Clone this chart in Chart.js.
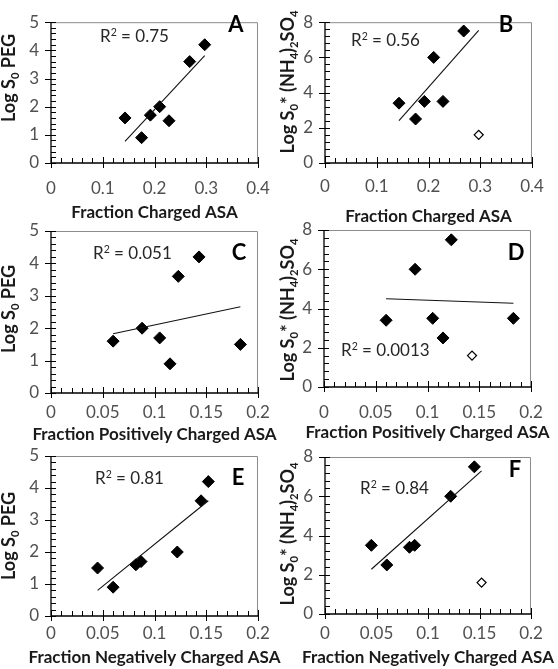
<!DOCTYPE html>
<html>
<head>
<meta charset="utf-8">
<script src="https://cdn.jsdelivr.net/npm/chart.js@4.4.1/dist/chart.umd.min.js"></script>
<style>
  html, body { margin: 0; padding: 0; background: #fff; }
  #wrap { position: relative; width: 558px; height: 669px; overflow: hidden; }
  #wrap canvas { position: absolute; left: 0; top: 0; }
</style>
</head>
<body>
<div id="wrap"></div>
<script>
// values, one entry per protein (same order everywhere)
const chargedASA = [0.143, 0.175, 0.192, 0.210, 0.228, 0.268, 0.297];
const positiveASA = [0.060, 0.115, 0.105, 0.088, 0.183, 0.123, 0.143];
const negativeASA = [0.082, 0.060, 0.087, 0.122, 0.045, 0.145, 0.152];
const logS0PEG = [1.6, 0.9, 1.7, 2.0, 1.5, 3.6, 4.2];
const logS0AS = [3.4, 2.5, 3.5, 6.0, 3.5, 7.5, 1.6];
// last protein is drawn as an open diamond in the ammonium sulfate panels
const asOutlier = [false, false, false, false, false, false, true];

// trendline end points [x, y]
const trendA = [[0.143, 0.77], [0.297, 3.81]];
const trendB = [[0.143, 2.41], [0.297, 7.54]];
const trendC = [[0.060, 1.83], [0.183, 2.66]];
const trendD = [[0.060, 4.50], [0.183, 4.27]];
const trendE = [[0.045, 0.80], [0.152, 3.60]];
const trendF = [[0.045, 2.28], [0.152, 7.29]];

const r2Labels = ["0.75", "0.56", "0.051", "0.0013", "0.81", "0.84"];

const W = 558, H = 669;
const FONT = "Lato, 'Open Sans', sans-serif";
const Y_AXIS_W = 45, X_AXIS_H = 40;

const pegTitle = [["Log S", 0], ["0", -1], [" PEG", 0]];
const asTitle = [["Log S", 0], ["0", -1], ["* (NH", 0], ["4", -1], [")", 0], ["2", -1], ["SO", 0], ["4", -1]];

const panels = [
  { letter: "A", xs: chargedASA, ys: logS0PEG, open: null, trend: trendA, r2: r2Labels[0],
    xMax: 0.4, xMajor: 0.1, xMinor: 0.02, yMax: 5, yMajor: 1, yMinor: 0.2,
    area: { l: 51, r: 258, t: 8, b: 163 }, xPad: 15,
    r2At: [100, 36], letterAt: [236, 25], xTitle: "Fraction Charged ASA", xTitleY: 213,
    yTitle: pegTitle, yTitleAt: [9, 78] },
  { letter: "B", xs: chargedASA, ys: logS0AS, open: asOutlier, trend: trendB, r2: r2Labels[1],
    xMax: 0.4, xMajor: 0.1, xMinor: 0.02, yMax: 8, yMajor: 2, yMinor: 0.4,
    area: { l: 325, r: 532, t: 7, b: 163 }, xPad: 13,
    r2At: [351, 40], letterAt: [506, 25], xTitle: "Fraction Charged ASA", xTitleY: 217,
    yTitle: asTitle, yTitleAt: [288, 82] },
  { letter: "C", xs: positiveASA, ys: logS0PEG, open: null, trend: trendC, r2: r2Labels[2],
    xMax: 0.2, xMajor: 0.05, xMinor: 0.01, yMax: 5, yMajor: 1, yMinor: 0.2,
    area: { l: 51, r: 258, t: 231, b: 393 }, xPad: 9,
    r2At: [93, 253], letterAt: [239, 253], xTitle: "Fraction Positively Charged ASA", xTitleY: 435,
    yTitle: pegTitle, yTitleAt: [9, 309] },
  { letter: "D", xs: positiveASA, ys: logS0AS, open: asOutlier, trend: trendD, r2: r2Labels[3],
    xMax: 0.2, xMajor: 0.05, xMinor: 0.01, yMax: 8, yMajor: 2, yMinor: 0.4,
    area: { l: 324, r: 531, t: 230, b: 387 }, xPad: 15,
    r2At: [341, 350], letterAt: [516, 253], xTitle: "Fraction Positively Charged ASA", xTitleY: 433,
    yTitle: asTitle, yTitleAt: [288, 310] },
  { letter: "E", xs: negativeASA, ys: logS0PEG, open: null, trend: trendE, r2: r2Labels[4],
    xMax: 0.2, xMajor: 0.05, xMinor: 0.01, yMax: 5, yMajor: 1, yMinor: 0.2,
    area: { l: 51, r: 258, t: 456, b: 616 }, xPad: 7,
    r2At: [95, 478], letterAt: [238, 478], xTitle: "Fraction Negatively Charged ASA", xTitleY: 658,
    yTitle: pegTitle, yTitleAt: [9, 536] },
  { letter: "F", xs: negativeASA, ys: logS0AS, open: asOutlier, trend: trendF, r2: r2Labels[5],
    xMax: 0.2, xMajor: 0.05, xMinor: 0.01, yMax: 8, yMajor: 2, yMinor: 0.4,
    area: { l: 325, r: 531, t: 457, b: 614 }, xPad: 9,
    r2At: [360, 488], letterAt: [515, 470], xTitle: "Fraction Negatively Charged ASA", xTitleY: 658,
    yTitle: asTitle, yTitleAt: [288, 534] }
];

function isMajor(v, step) {
  const q = v / step;
  return Math.abs(q - Math.round(q)) < 1e-6;
}

// text with sub/superscripts: parts = [[text, mode]], mode -1 sub, 1 sup
function richWidth(ctx, parts, size, bold) {
  let w = 0;
  parts.forEach(([t, m]) => {
    ctx.font = (bold ? "bold " : "") + (m ? size * 0.62 : size) + "px " + FONT;
    w += ctx.measureText(t).width;
  });
  return w;
}
function drawRich(ctx, parts, x, y, size, bold, align) {
  let cx = align === "center" ? x - richWidth(ctx, parts, size, bold) / 2 : x;
  ctx.textAlign = "left";
  ctx.textBaseline = "alphabetic";
  parts.forEach(([t, m]) => {
    ctx.font = (bold ? "bold " : "") + (m ? size * 0.62 : size) + "px " + FONT;
    const dy = m === -1 ? size * 0.22 : m === 1 ? -size * 0.38 : 0;
    ctx.fillText(t, cx, y + dy);
    cx += ctx.measureText(t).width;
  });
}

const framePlugin = {
  id: "frame",
  beforeDatasetsDraw(chart) {
    const ctx = chart.ctx, a = chart.chartArea;
    const xs = chart.scales.x, ys = chart.scales.y;
    const p = chart.options.plugins.frame.panel;
    ctx.save();
    ctx.strokeStyle = "#8c8c8c";
    ctx.lineWidth = 1;
    ctx.beginPath();
    ctx.moveTo(a.left, a.top + 0.5); ctx.lineTo(a.right - 0.5, a.top + 0.5); ctx.lineTo(a.right - 0.5, a.bottom);
    ctx.stroke();
    ctx.strokeStyle = "#000";
    ctx.lineWidth = 1.3;
    ctx.beginPath();
    ctx.moveTo(a.left, a.top); ctx.lineTo(a.left, a.bottom); ctx.lineTo(a.right, a.bottom);
    ctx.stroke();
    ctx.lineWidth = 1;
    ctx.beginPath();
    xs.ticks.forEach(t => {
      const px = Math.round(xs.getPixelForValue(t.value)) + 0.5;
      if (isMajor(t.value, p.xMajor)) { ctx.moveTo(px, a.bottom - 6); ctx.lineTo(px, a.bottom + 5); }
      else { ctx.moveTo(px, a.bottom - 5); ctx.lineTo(px, a.bottom); }
    });
    ys.ticks.forEach(t => {
      const py = Math.round(ys.getPixelForValue(t.value)) + 0.5;
      if (isMajor(t.value, p.yMajor)) { ctx.moveTo(a.left - 6, py); ctx.lineTo(a.left + 5, py); }
      else { ctx.moveTo(a.left, py); ctx.lineTo(a.left + 5, py); }
    });
    ctx.stroke();
    ctx.restore();
  },
  afterDraw(chart) {
    const ctx = chart.ctx, a = chart.chartArea;
    const p = chart.options.plugins.frame.panel;
    ctx.save();
    ctx.fillStyle = "#262626";
    drawRich(ctx, [["R", 0], ["2", 1], [" = " + p.r2, 0]], p.r2At[0], p.r2At[1] + 6, 17, false, "left");
    ctx.fillStyle = "#000";
    ctx.font = "bold 22px " + FONT;
    ctx.textAlign = "center";
    ctx.textBaseline = "middle";
    ctx.fillText(p.letter, p.letterAt[0], p.letterAt[1]);
    ctx.fillStyle = "#1a1a1a";
    ctx.font = "bold 17px " + FONT;
    ctx.textBaseline = "middle";
    ctx.fillText(p.xTitle, (a.left + a.right) / 2, p.xTitleY);
    ctx.translate(p.yTitleAt[0], p.yTitleAt[1]);
    ctx.rotate(-Math.PI / 2);
    drawRich(ctx, p.yTitle, 0, 6, 18, true, "center");
    ctx.restore();
  }
};

const wrap = document.getElementById("wrap");
panels.forEach(p => {
  const canvas = document.createElement("canvas");
  canvas.width = W; canvas.height = H;
  canvas.style.width = W + "px"; canvas.style.height = H + "px";
  wrap.appendChild(canvas);

  const filled = [], hollow = [];
  p.xs.forEach((x, i) => {
    const pt = { x: x, y: p.ys[i] };
    if (p.open && p.open[i]) hollow.push(pt); else filled.push(pt);
  });

  const tickFont = { family: FONT, size: 17 };
  new Chart(canvas.getContext("2d"), {
    type: "scatter",
    data: {
      datasets: [
        {
          type: "line",
          data: p.trend.map(([x, y]) => ({ x, y })),
          borderColor: "#111",
          borderWidth: 1.1,
          pointRadius: 0,
          fill: false
        },
        {
          data: filled,
          pointStyle: "rectRot",
          pointRadius: 6,
          backgroundColor: "#000",
          borderColor: "#000",
          borderWidth: 1
        },
        {
          data: hollow,
          pointStyle: "rectRot",
          pointRadius: 4.5,
          backgroundColor: "#fff",
          borderColor: "#000",
          borderWidth: 1.3
        }
      ]
    },
    options: {
      responsive: false,
      animation: false,
      layout: {
        padding: {
          left: p.area.l - Y_AXIS_W, top: p.area.t,
          right: W - p.area.r, bottom: H - p.area.b - X_AXIS_H
        }
      },
      scales: {
        x: {
          type: "linear",
          min: 0, max: p.xMax,
          afterFit: s => { s.height = X_AXIS_H; },
          grid: { display: false, drawTicks: false },
          border: { display: false },
          ticks: {
            stepSize: p.xMinor, autoSkip: false, maxRotation: 0, padding: p.xPad,
            font: tickFont, color: "#505050",
            callback: v => isMajor(v, p.xMajor) ? String(parseFloat(v.toFixed(3))) : ""
          }
        },
        y: {
          type: "linear",
          min: 0, max: p.yMax,
          afterFit: s => { s.width = Y_AXIS_W; },
          grid: { display: false, drawTicks: false },
          border: { display: false },
          ticks: {
            stepSize: p.yMinor, autoSkip: false, padding: 12,
            font: tickFont, color: "#505050",
            callback: v => isMajor(v, p.yMajor) ? String(Math.round(v)) : ""
          }
        }
      },
      plugins: {
        legend: { display: false },
        tooltip: { enabled: false },
        frame: { panel: p }
      }
    },
    plugins: [framePlugin]
  });
});
</script>
</body>
</html>
